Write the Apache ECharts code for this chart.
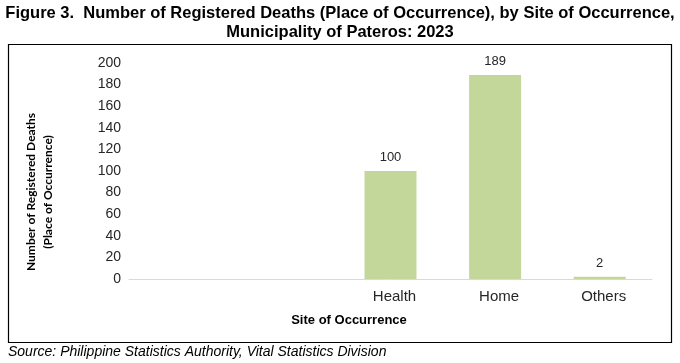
<!DOCTYPE html>
<html>
<head>
<meta charset="utf-8">
<script src="https://cdn.jsdelivr.net/npm/echarts@6/dist/echarts.min.js"></script>
<style>
html,body{margin:0;padding:0;background:#fff;}
#chart{width:680px;height:363px;}
</style>
</head>
<body>
<div id="chart"></div>
<script>
var categories = ['', '', 'Health', 'Home', 'Others'];
var deaths = [null, null, 100, 189, 2];
var yTicks = [0, 20, 40, 60, 80, 100, 120, 140, 160, 180, 200];

var titleText = 'Figure 3.  Number of Registered Deaths (Place of Occurrence), by Site of Occurrence,\nMunicipality of Pateros: 2023';
var yName = 'Number of Registered Deaths\n(Place of Occurrence)';
var xName = 'Site of Occurrence';
var sourceText = 'Source: Philippine Statistics Authority, Vital Statistics Division';

var chart = echarts.init(document.getElementById('chart'), null, {renderer: 'canvas'});
chart.setOption({
  animation: false,
  backgroundColor: '#ffffff',
  grid: {left: 129, right: 28, top: 63, bottom: 84, containLabel: false},
  xAxis: {
    type: 'category',
    data: categories,
    axisLine: {show: true, lineStyle: {color: '#d9d9d9', width: 1}},
    axisTick: {show: false},
    axisLabel: {
      color: '#262626', fontFamily: 'Liberation Sans, Arial', fontSize: 15,
      margin: 10, padding: [0, 0, 0, 8]
    },
    splitLine: {show: false}
  },
  yAxis: {
    type: 'value',
    min: yTicks[0], max: yTicks[yTicks.length - 1], interval: 20,
    axisLine: {show: false},
    axisTick: {show: false},
    splitLine: {show: false},
    axisLabel: {color: '#262626', fontFamily: 'Liberation Sans, Arial', fontSize: 14, margin: 8}
  },
  series: [{
    type: 'bar',
    data: deaths,
    barWidth: 52,
    itemStyle: {color: '#c4d79b'},
    label: {
      show: true, position: 'top', distance: 7,
      color: '#262626', fontFamily: 'Liberation Sans, Arial', fontSize: 13
    }
  }],
  graphic: [
    {type: 'rect', shape: {x: 8.5, y: 44.5, width: 663, height: 298}, style: {fill: 'none', stroke: '#000', lineWidth: 1.2}, z: 10},
    {type: 'text', x: 340, y: 4, style: {text: titleText, font: 'bold 16.5px "Liberation Sans", Arial', fill: '#000', align: 'center', verticalAlign: 'top', lineHeight: 19}},
    {type: 'text', x: 40, y: 192, rotation: Math.PI / 2, style: {text: yName, font: 'bold 12px Lato', fill: '#000', align: 'center', verticalAlign: 'middle', lineHeight: 17}},
    {type: 'text', x: 349, y: 320, style: {text: xName, font: 'bold 13px "Liberation Sans", Arial', fill: '#000', align: 'center', verticalAlign: 'middle'}},
    {type: 'text', x: 8, y: 352, style: {text: sourceText, font: 'italic 14px "Liberation Sans", Arial', fill: '#000', align: 'left', verticalAlign: 'middle'}}
  ]
});
</script>
</body>
</html>
